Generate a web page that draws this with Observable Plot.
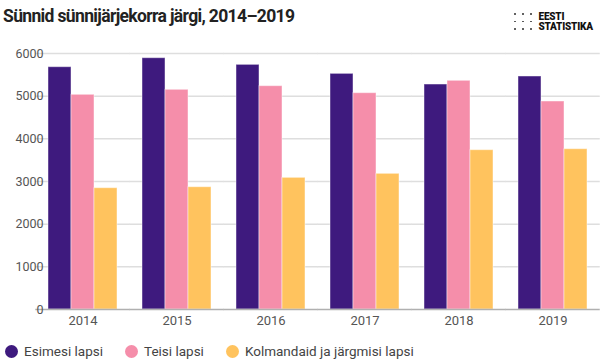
<!DOCTYPE html>
<html>
<head>
<meta charset="utf-8">
<script src="https://cdn.jsdelivr.net/npm/d3@7"></script>
<script src="https://cdn.jsdelivr.net/npm/@observablehq/plot@0.6"></script>
<style>
  html, body { margin: 0; padding: 0; background: #fff; }
  body { width: 605px; height: 363px; overflow: hidden; font-family: Roboto, "Noto Sans", sans-serif; position: relative; }
  #title { height: 40px; position: relative; }
  #title h1 { position: absolute; left: 3px; top: 6px; margin: 0; font-size: 17.5px; font-weight: 700; color: #222; letter-spacing: -0.65px; }
  #logo { position: absolute; left: 514px; top: 12px; display: flex; align-items: center; }
  #logo .dots { display: grid; grid-template-columns: repeat(3, 1.5px); grid-template-rows: repeat(3, 1.5px); column-gap: 6.5px; row-gap: 6px; margin-right: 7px; }
  #logo .dots span { width: 1.5px; height: 1.5px; background: #444; border-radius: 50%; }
  #logo .txt { font-size: 10px; font-weight: 900; line-height: 9.5px; color: #111; letter-spacing: -0.2px; }
  #legend { display: flex; align-items: center; height: 40px; padding-left: 5px; font-size: 13.5px; color: #444; }
  #legend .item { display: flex; align-items: center; margin-right: 22px; }
  #legend .sw { width: 13px; height: 13px; border-radius: 50%; margin-right: 6px; }
  svg { display: block; }
</style>
</head>
<body>
<div id="title">
  <h1>Sünnid sünnijärjekorra järgi, 2014–2019</h1>
  <div id="logo">
    <div class="dots"><span></span><span></span><span></span><span></span><span></span><span></span><span></span><span></span><span></span></div>
    <div class="txt">EESTI<br>STATISTIKA</div>
  </div>
</div>
<div id="chart"></div>
<div id="legend"></div>
<script>
const years = ["2014", "2015", "2016", "2017", "2018", "2019"];
const seriesNames = ["Esimesi lapsi", "Teisi lapsi", "Kolmandaid ja järgmisi lapsi"];
const esimesi = [5679, 5890, 5734, 5523, 5273, 5461];
const teisi = [5032, 5149, 5234, 5070, 5360, 4875];
const kolmandaid = [2843, 2866, 3086, 3180, 3734, 3757];
const colors = ["#3e1a7e", "#f58eaa", "#ffc35e"];
const yTicks = [0, 1000, 2000, 3000, 4000, 5000, 6000];

const seriesValues = [esimesi, teisi, kolmandaid];
const data = [];
years.forEach((y, i) => {
  seriesNames.forEach((s, j) => data.push({year: y, series: s, value: seriesValues[j][i]}));
});

const W = 605, ML = 35, MR = 6;
const padIn = 0.25, padOut = 0.125;
const step = (W - ML - MR) / (years.length - padIn + 2 * padOut);
const halfGap = step * padIn / 2;

const chart = Plot.plot({
  width: W,
  height: 291,
  marginTop: 13,
  marginLeft: ML,
  marginRight: MR,
  marginBottom: 22,
  style: {fontFamily: "Roboto, sans-serif", fontSize: "12.5px", color: "#555", background: "#fff"},
  fx: {domain: years, paddingInner: padIn, paddingOuter: padOut, label: null},
  x: {domain: seriesNames, padding: 0, axis: null},
  y: {domain: [0, 6000], axis: null},
  color: {domain: seriesNames, range: colors},
  marks: [
    Plot.gridY(yTicks.filter(d => d > 0), {stroke: "#dedede", strokeOpacity: 1, strokeWidth: 1.5, insetLeft: -halfGap, insetRight: -halfGap}),
    Plot.barY(data, {fx: "year", x: "series", y: "value", fill: "series", stroke: "#fff", strokeOpacity: 0.45, strokeWidth: 1}),
    Plot.ruleY([0], {stroke: "#b0b0b0", strokeWidth: 1.5, insetLeft: -halfGap, insetRight: -halfGap}),
    Plot.axisY(yTicks, {anchor: "left", tickSize: 0, tickPadding: 4, fill: "#555", fontSize: 12.5, label: null, tickFormat: d => String(d)}),
    Plot.axisFx({anchor: "bottom", tickSize: 0, tickPadding: 6, fill: "#555", fontSize: 13, label: null})
  ]
});
document.getElementById("chart").appendChild(chart);

const legend = document.getElementById("legend");
seriesNames.forEach((s, i) => {
  const item = document.createElement("div");
  item.className = "item";
  const sw = document.createElement("span");
  sw.className = "sw";
  sw.style.background = colors[i];
  const t = document.createElement("span");
  t.textContent = s;
  item.appendChild(sw);
  item.appendChild(t);
  legend.appendChild(item);
});
</script>
</body>
</html>
